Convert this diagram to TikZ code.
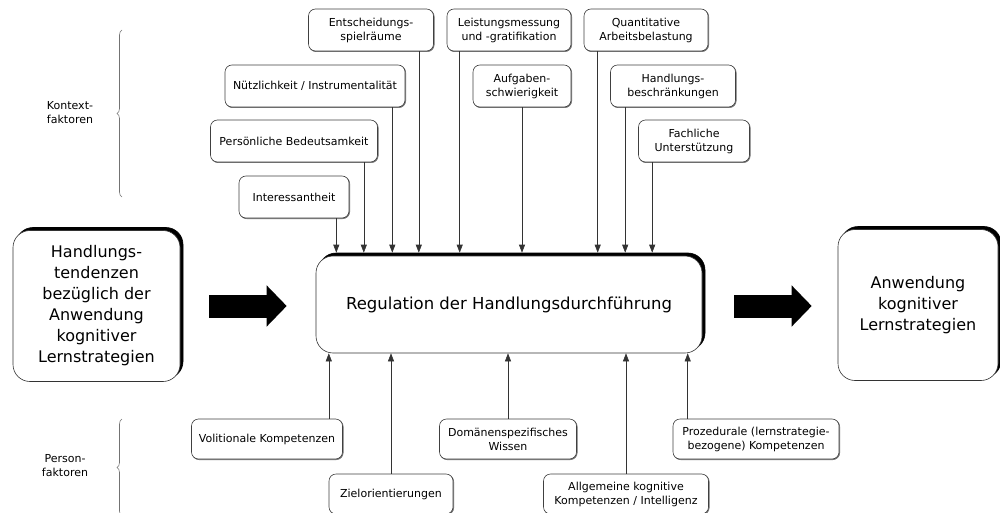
\documentclass[tikz,border=0pt]{standalone}
\usepackage{fontspec}
\setmainfont{DejaVu Sans}
\usetikzlibrary{arrows.meta,shadows,decorations.pathreplacing}

\begin{document}
\begin{tikzpicture}[x=1pt, y=-1pt,
	klein/.style={draw=black!75, line width=0.6pt, rounded corners=7pt, fill=white, align=center,
		minimum height=42pt, inner sep=1pt, font=\fontsize{11}{14}\selectfont,
		copy shadow={shadow xshift=0.7pt, shadow yshift=-0.7pt, fill=black!55, draw=black!55}},
	gross/.style={draw=black!80, line width=0.6pt, rounded corners=17pt, fill=white, align=center,
		font=\fontsize{16}{21}\selectfont,
		copy shadow={shadow xshift=3pt, shadow yshift=3pt, fill=black, draw=black}},
	pfeil/.style={draw=black!80, line width=0.6pt, -{Triangle[length=8pt,width=6pt]}},
	blockpfeil/.style={line width=23pt, -{Triangle[length=20pt,width=40pt]}},
	klammer/.style={draw=black!55, line width=0.6pt, decorate, decoration={brace, amplitude=5pt}},
	seite/.style={align=center, font=\fontsize{11}{14}\selectfont}]
	\useasboundingbox (0,0) rectangle (1000,513);

	% Hauptknoten
	\node[gross, minimum width=386pt, minimum height=97pt, font=\fontsize{16.5}{21}\selectfont] (reg) at (509,304.5) {Regulation der Handlungsdurchführung};
	\node[gross, minimum width=167pt, minimum height=151pt] (tend) at (96.5,306) {Handlungs-\\tendenzen\\bezüglich der\\Anwendung\\kognitiver\\Lernstrategien};
	\node[gross, minimum width=160pt, minimum height=151pt] (anw) at (918,305) {Anwendung\\kognitiver\\Lernstrategien};
	\coordinate (regtop) at ([yshift=3pt]reg.north);

	% Kontextfaktoren
	\node[klein, minimum width=125pt] (entsch) at (371,30) {Entscheidungs-\\spielräume};
	\node[klein, minimum width=124pt] (leist) at (509,30) {Leistungsmessung\\und -gratifikation};
	\node[klein, minimum width=124pt] (quant) at (646,30) {Quantitative\\Arbeitsbelastung};
	\node[klein, minimum width=180pt] (nuetz) at (315,86) {Nützlichkeit / Instrumentalität};
	\node[klein, minimum width=98pt] (aufg) at (522,86) {Aufgaben-\\schwierigkeit};
	\node[klein, minimum width=125pt] (hbeschr) at (673,86) {Handlungs-\\beschränkungen};
	\node[klein, minimum width=167pt] (pers) at (294,141) {Persönliche Bedeutsamkeit};
	\node[klein, minimum width=111pt] (fach) at (694,141) {Fachliche\\Unterstützung};
	\node[klein, minimum width=110pt] (inter) at (294,197) {Interessantheit};

	% Personfaktoren
	\node[klein, minimum width=151pt, minimum height=40pt] (vol) at (267,439) {Volitionale Kompetenzen};
	\node[klein, minimum width=124pt, minimum height=40pt] (ziel) at (391,494) {Zielorientierungen};
	\node[klein, minimum width=137pt, minimum height=40pt] (dom) at (508,439) {Domänenspezifisches\\Wissen};
	\node[klein, minimum width=165pt, minimum height=40pt] (allg) at (626,494) {Allgemeine kognitive\\Kompetenzen / Intelligenz};
	\node[klein, minimum width=166pt, minimum height=40pt] (proz) at (756,439) {Prozedurale (lernstrategie-\\bezogene) Kompetenzen};

	% Pfeile von oben
	\draw[pfeil] ([xshift=-15pt]entsch.south east) -- ([xshift=-15pt]entsch.south east |- regtop);
	\draw[pfeil] ([xshift=13pt]leist.south west) -- ([xshift=13pt]leist.south west |- regtop);
	\draw[pfeil] ([xshift=14pt]quant.south west) -- ([xshift=14pt]quant.south west |- regtop);
	\draw[pfeil] ([xshift=-13pt]nuetz.south east) -- ([xshift=-13pt]nuetz.south east |- regtop);
	\draw[pfeil] (aufg.south) -- (aufg.south |- regtop);
	\draw[pfeil] ([xshift=15pt]hbeschr.south west) -- ([xshift=15pt]hbeschr.south west |- regtop);
	\draw[pfeil] ([xshift=-14pt]pers.south east) -- ([xshift=-14pt]pers.south east |- regtop);
	\draw[pfeil] ([xshift=14pt]fach.south west) -- ([xshift=14pt]fach.south west |- regtop);
	\draw[pfeil] ([xshift=-13pt]inter.south east) -- ([xshift=-13pt]inter.south east |- regtop);

	% Pfeile von unten
	\draw[pfeil] ([xshift=-14pt]vol.north east) -- ([xshift=-14pt]vol.north east |- reg.south);
	\draw[pfeil] (ziel.north) -- (ziel.north |- reg.south);
	\draw[pfeil] (dom.north) -- (dom.north |- reg.south);
	\draw[pfeil] (allg.north) -- (allg.north |- reg.south);
	\draw[pfeil] ([xshift=15pt]proz.north west) -- ([xshift=15pt]proz.north west |- reg.south);

	% Blockpfeile
	\draw[blockpfeil, shorten <=29pt, shorten >=29pt] (tend.east) -- (tend.east -| reg.west);
	\draw[blockpfeil, shorten <=32pt, shorten >=26pt] (reg.east |- tend.east) -- (tend.east -| anw.west);

	% Klammern
	\coordinate (k1) at (122,197);
	\coordinate (k2) at (122,30);
	\coordinate (p1) at (122,516);
	\coordinate (p2) at (122,419);
	\draw[klammer] (k1) -- (k2);
	\draw[klammer] (p1) -- (p2);
	\node[seite] (kontext) at (70,113) {Kontext-\\faktoren};
	\node[seite] (person) at (65,466) {Person-\\faktoren};
\end{tikzpicture}
\end{document}
